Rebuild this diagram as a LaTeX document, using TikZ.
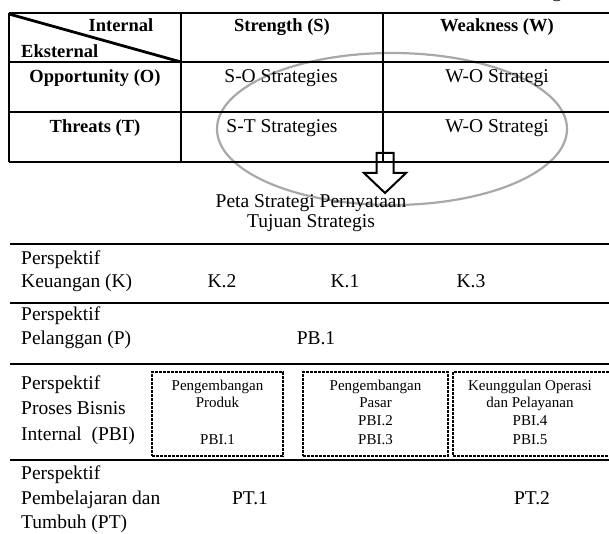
\documentclass[tikz,border=0pt]{standalone}
\usepackage{fontspec}
\setmainfont{Liberation Serif}
\newfontfamily\timesf{Liberation Serif}
\definecolor{ringgray}{RGB}{168,168,168}
\begin{document}
\begin{tikzpicture}[x=1pt,y=-1pt,
  tline/.style={line width=1.1pt},
  maintxt/.style={font=\fontsize{19.5}{22}\selectfont, inner sep=0pt, anchor=base},
  lefttxt/.style={font=\fontsize{19.5}{22}\selectfont, inner sep=0pt, anchor=base west},
  hdr/.style={font=\fontsize{18.5}{20}\selectfont\bfseries, inner sep=0pt, anchor=base},
  small/.style={font=\timesf\fontsize{15}{18}\selectfont, inner sep=0pt, anchor=base},
  dbox/.style={draw, line width=1.8pt, dash pattern=on 3pt off 1pt, inner sep=0pt},
  ring/.style={draw=ringgray, line width=2.2pt},
  hollowarrow/.style={draw=black, line width=2pt, line join=miter}
  ]
\useasboundingbox (0,0) rectangle (609,534);

% cut-off letter from the line above
\node[maintxt] (gcut) at (557,-2) {g};

% ellipse behind the text
\draw[ring] (392,129) ellipse [x radius=175pt, y radius=76pt];

% SWOT table
\draw[tline] (9,13) -- (612,13);
\draw[tline] (9,62) -- (612,62);
\draw[tline] (9,112) -- (612,112);
\draw[tline] (9,162) -- (612,162);
\draw[tline] (9,13) -- (9,162);
\draw[tline] (181,13) -- (181,162);
\draw[tline] (383,13) -- (383,162);
\draw[line width=2.8pt] (9,14) -- (181,62);

\node[hdr] (intl) at (121,32) {Internal};
\node[hdr, anchor=base west] (ekst) at (21,58) {Eksternal};
\node[hdr] (str) at (282,32) {Strength (S)};
\node[hdr] (weak) at (497,32) {Weakness (W)};
\node[hdr] (opp) at (95,83) {Opportunity (O)};
\node[hdr] (thr) at (95,133) {Threats (T)};
\node[maintxt] (so) at (281,83) {S-O Strategies};
\node[maintxt] (st) at (282,133) {S-T Strategies};
\node[maintxt] (wo) at (497,83) {W-O Strategi};
\node[maintxt] (wt) at (497,133) {W-O Strategi};

% hollow arrow
\draw[hollowarrow] (376.5,153) -- (393.5,153) -- (393.5,173) -- (406,173) -- (385,193) -- (364,173) -- (376.5,173) -- cycle;

\node[maintxt] (peta1) at (311,208) {Peta Strategi Pernyataan};
\node[maintxt] (peta2) at (311,228) {Tujuan Strategis};

% perspective rows
\draw[tline] (10,244) -- (612,244);
\draw[tline] (10,303) -- (612,303);
\draw[tline] (10,364) -- (612,364);
\draw[tline] (10,460) -- (612,460);

\node[lefttxt] (k1l) at (21,264) {Perspektif};
\node[lefttxt] (k2l) at (21,287) {Keuangan (K)};
\node[maintxt] (k2) at (222,287) {K.2};
\node[maintxt] (k1) at (345,287) {K.1};
\node[maintxt] (k3) at (471,287) {K.3};

\node[lefttxt] (p1l) at (21,320) {Perspektif};
\node[lefttxt] (p2l) at (21,344) {Pelanggan (P)};
\node[maintxt] (pb1) at (316,344) {PB.1};

\node[lefttxt] (b1l) at (21,389) {Perspektif};
\node[lefttxt] (b2l) at (21,414) {Proses Bisnis};
\node[lefttxt] (b3l) at (21,440) {Internal~~(PBI)};

\node[dbox, minimum width=131pt, minimum height=84pt] (box1) at (217.5,414) {};
\node[dbox, minimum width=145pt, minimum height=84pt] (box2) at (375.5,414) {};
\node[dbox, minimum width=158pt, minimum height=84pt] (box3) at (532,414) {};

\node[small] (b1a) at (217.5,390) {Pengembangan};
\node[small] (b1b) at (217.5,407) {Produk};
\node[small] (b1c) at (217.5,444) {PBI.1};
\node[small] (b2a) at (375.5,390) {Pengembangan};
\node[small] (b2b) at (375.5,407) {Pasar};
\node[small] (b2c) at (375.5,425) {PBI.2};
\node[small] (b2d) at (375.5,444) {PBI.3};
\node[small] (b3a) at (530,390) {Keunggulan Operasi};
\node[small] (b3b) at (530,407) {dan Pelayanan};
\node[small] (b3c) at (530,425) {PBI.4};
\node[small] (b3d) at (530,444) {PBI.5};

\node[lefttxt] (t1l) at (21,479) {Perspektif};
\node[lefttxt] (t2l) at (21,504) {Pembelajaran dan};
\node[lefttxt] (t3l) at (21,528) {Tumbuh (PT)};
\node[maintxt] (pt1) at (250,504) {PT.1};
\node[maintxt] (pt2) at (532,504) {PT.2};
\end{tikzpicture}
\end{document}
